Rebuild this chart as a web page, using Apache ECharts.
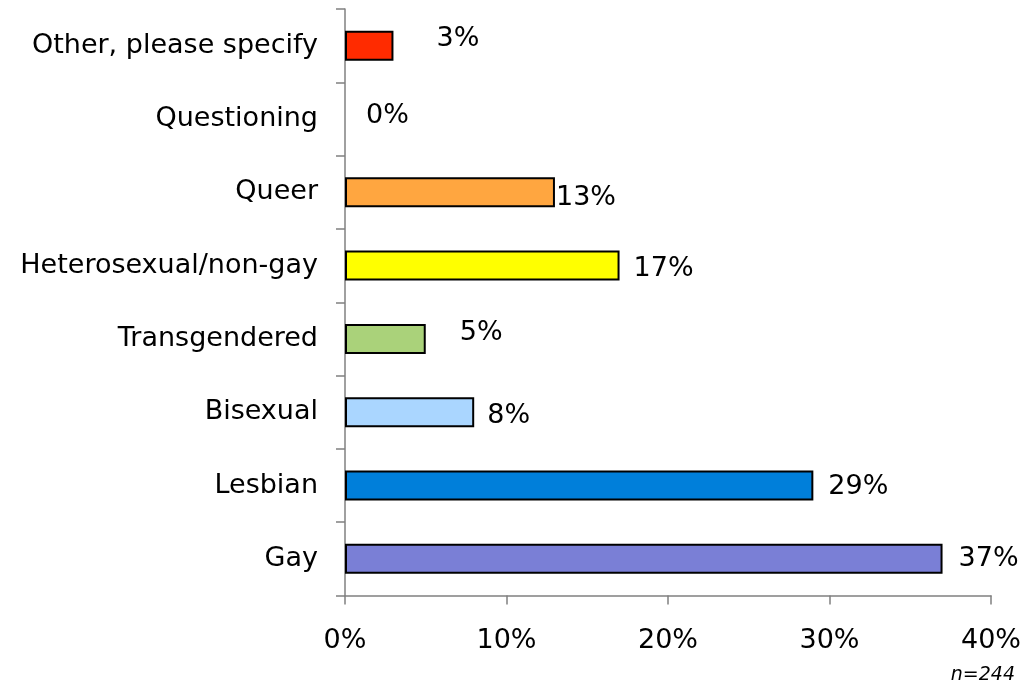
<!DOCTYPE html>
<html>
<head>
<meta charset="utf-8">
<script src="https://cdn.jsdelivr.net/npm/echarts@6/dist/echarts.min.js"></script>
<style>html,body{margin:0;padding:0;background:#fff;}#c{width:1024px;height:687px;}</style>
</head>
<body>
<div id="c"></div>
<script>
// Data (bottom to top on the category axis)
var categories = ["Gay", "Lesbian", "Bisexual", "Transgendered", "Heterosexual/non-gay", "Queer", "Questioning", "Other, please specify"];
var values = [37, 29, 8, 5, 17, 13, 0, 3];
var barColors = ["#7A7FD6", "#007FDA", "#AAD6FF", "#AAD27A", "#FFFF00", "#FFA640", "#FFFFFF", "#FF2B00"];
var xTicks = [0, 10, 20, 30, 40];
var footnote = "n=244";
// label nudges (style only)
var labelOffsets = [[16, 0], [15, 1], [13, 4], [34, -6], [14, 3], [1, 6], [21, -3], [43, -7]];

var FONT = "DejaVu Sans";
var chart = echarts.init(document.getElementById('c'));
chart.setOption({
  animation: false,
  backgroundColor: '#fff',
  grid: { left: 345, right: 33, top: 9, bottom: 91.5, containLabel: false },
  xAxis: {
    type: 'value', min: xTicks[0], max: xTicks[xTicks.length - 1], interval: 10,
    axisLine: { show: true, lineStyle: { color: '#808080', width: 1.5 } },
    axisTick: { show: true, length: 9, lineStyle: { color: '#808080', width: 1.5 } },
    splitLine: { show: false },
    axisLabel: { formatter: '{value}%', color: '#000', fontFamily: FONT, fontSize: 27, margin: 32 }
  },
  yAxis: {
    type: 'category', data: categories,
    axisLine: { show: true, lineStyle: { color: '#808080', width: 1.5 } },
    axisTick: { show: true, length: 9, alignWithLabel: false, lineStyle: { color: '#808080', width: 1.5 } },
    axisLabel: { color: '#000', fontFamily: FONT, fontSize: 27, margin: 27 }
  },
  series: [{
    type: 'bar',
    barWidth: 30,
    data: values.map(function (v, i) {
      return {
        value: v,
        itemStyle: { color: barColors[i], borderColor: '#000', borderWidth: v > 0 ? 2 : 0 },
        label: { offset: labelOffsets[i] }
      };
    }),
    label: {
      show: true, position: 'right', distance: 0,
      formatter: '{c}%', color: '#000', fontFamily: FONT, fontSize: 27
    }
  }],
  graphic: [{
    type: 'text', right: 9, top: 666,
    style: { text: footnote, fontFamily: FONT, fontSize: 19, fontStyle: 'italic', fill: '#000' }
  }]
});
</script>
</body>
</html>
